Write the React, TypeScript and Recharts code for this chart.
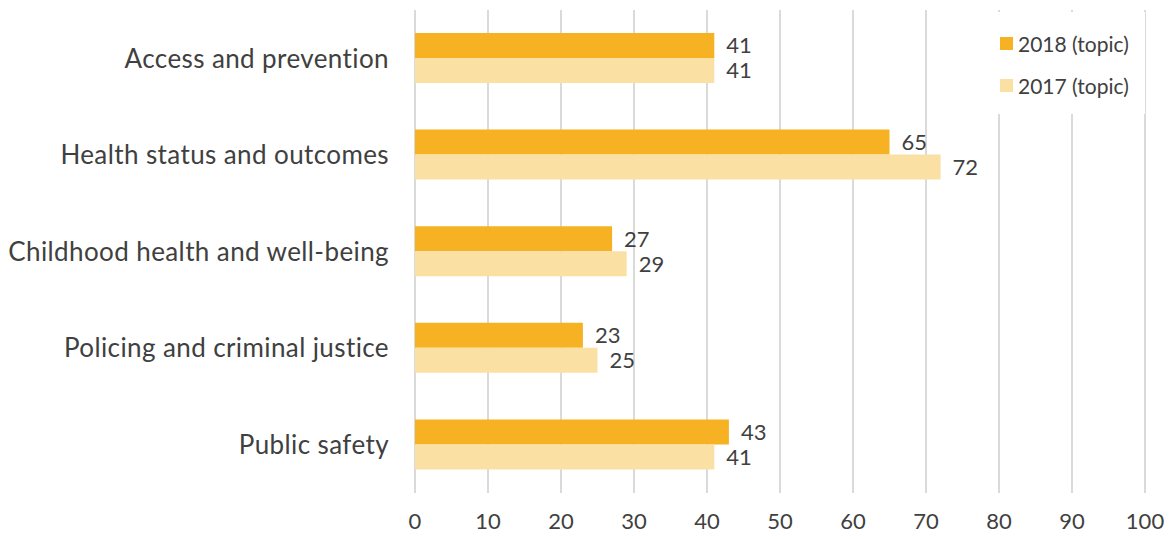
import { BarChart, Bar, XAxis, YAxis, CartesianGrid, Legend, LabelList } from 'recharts';

const categories = [
  'Access and prevention',
  'Health status and outcomes',
  'Childhood health and well-being',
  'Policing and criminal justice',
  'Public safety',
];
const values2018 = [41, 65, 27, 23, 43];
const values2017 = [41, 72, 29, 25, 41];
const xTicks = [0, 10, 20, 30, 40, 50, 60, 70, 80, 90, 100];

const data = categories.map((name, i) => ({
  name,
  y2018: values2018[i],
  y2017: values2017[i],
}));

const TEXT = '#404040';
const FONT = 'Lato, "Open Sans", sans-serif';

// keep 2018 above 2017 like the bars
const renderLegend = (props: any) => {
  const items = [...(props.payload || [])].sort((a: any, b: any) =>
    String(b.value).localeCompare(String(a.value))
  );
  return (
    <div style={{ background: '#fff', padding: '10px 8px 8px 10px', fontFamily: FONT }}>
      {items.map((entry: any) => (
        <div key={entry.value} style={{ display: 'flex', alignItems: 'center', height: 42, fontSize: 21, color: TEXT }}>
          <span style={{ width: 13, height: 13, background: entry.color, marginRight: 5, display: 'inline-block' }} />
          {entry.value}
        </div>
      ))}
    </div>
  );
};

export default function App() {
  return (
    <div style={{ position: 'absolute', left: 0, top: 0, width: 1170, height: 539, background: '#fff' }}>
      <BarChart
        width={1170}
        height={539}
        data={data}
        layout="vertical"
        barSize={25}
        barGap={0}
        margin={{ top: 10, right: 25, bottom: 0, left: 0 }}
      >
        <CartesianGrid horizontal={false} stroke="#dadada" strokeWidth={2} />
        <XAxis
          type="number"
          domain={[0, 100]}
          ticks={xTicks}
          axisLine={false}
          tickLine={false}
          height={46}
          tickMargin={14}
          tick={{ fill: TEXT, fontSize: 22, fontFamily: FONT }}
        />
        <YAxis
          type="category"
          dataKey="name"
          width={415}
          axisLine={false}
          tickLine={false}
          tickMargin={20}
          tick={{ fill: TEXT, fontSize: 26, fontFamily: FONT, letterSpacing: 0.4 }}
        />
        <Legend
          layout="vertical"
          align="center"
          verticalAlign="middle"
          content={renderLegend}
          wrapperStyle={{ top: 12, left: 990, width: 155, height: 'auto' }}
        />
        <Bar dataKey="y2018" name="2018 (topic)" fill="#F6B223" isAnimationActive={false}>
          <LabelList dataKey="y2018" position="right" offset={12} fill={TEXT} fontSize={22} fontFamily={FONT} />
        </Bar>
        <Bar dataKey="y2017" name="2017 (topic)" fill="#FBE0A4" isAnimationActive={false}>
          <LabelList dataKey="y2017" position="right" offset={12} fill={TEXT} fontSize={22} fontFamily={FONT} />
        </Bar>
      </BarChart>
    </div>
  );
}
